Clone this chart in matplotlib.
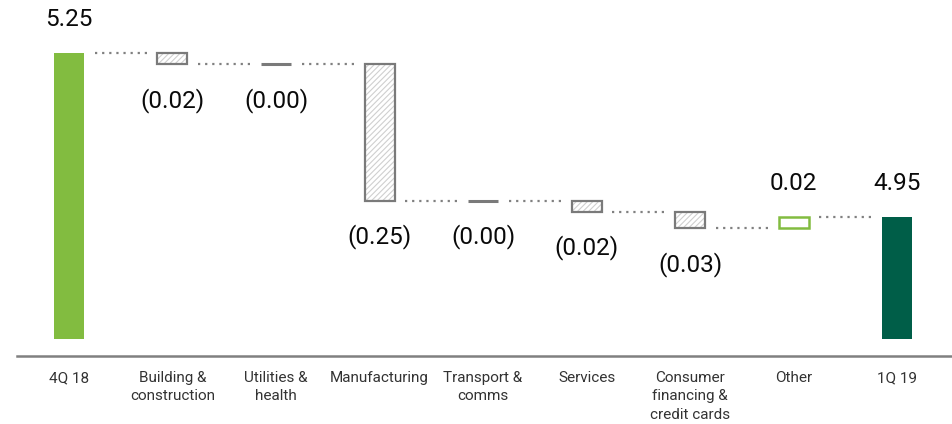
import matplotlib
matplotlib.use("Agg")
import matplotlib.pyplot as plt
import numpy as np

# Loan book bridge, 4Q 18 to 1Q 19
categories = ["4Q 18", "Building &\nconstruction", "Utilities &\nhealth", "Manufacturing",
              "Transport &\ncomms", "Services", "Consumer\nfinancing &\ncredit cards",
              "Other", "1Q 19"]
opening = 5.25
changes = [-0.02, -0.00, -0.25, -0.00, -0.02, -0.03, 0.02]
closing = 4.95
value_labels = ["5.25", "(0.02)", "(0.00)", "(0.25)", "(0.00)", "(0.02)", "(0.03)", "0.02", "4.95"]

plt.rcParams["font.family"] = ["Roboto", "DejaVu Sans"]

LIGHT_GREEN = "#82BC40"
DARK_GREEN = "#005E48"
GREY_EDGE = "#7a7a7a"
HATCH_GREY = "#cfcfcf"
AXIS_FLOOR = 4.696
BAR_BASE = 4.727
WIDTH = 0.29

fig = plt.figure(figsize=(9.52, 4.24), dpi=100)
ax = fig.add_axes([17 / 952, 68 / 424, 1 - 17 / 952, 356 / 424])

x = np.arange(len(categories))
levels = np.concatenate([[opening], opening + np.cumsum(changes)])

plt.rcParams["hatch.linewidth"] = 0.8

# Opening and closing totals
ax.bar(x[0], opening - BAR_BASE, bottom=BAR_BASE, width=WIDTH, color=LIGHT_GREEN, zorder=3)
ax.bar(x[-1], closing - BAR_BASE, bottom=BAR_BASE, width=WIDTH, color=DARK_GREEN, zorder=3)

# Movement bars
for i, d in enumerate(changes):
    xi = x[i + 1]
    start = levels[i]
    bottom = min(start, start + d)
    h = abs(d)
    if d > 0:
        ax.bar(xi, h, bottom=bottom, width=WIDTH, facecolor="white",
               edgecolor=LIGHT_GREEN, linewidth=1.8, zorder=3)
    elif h == 0:
        ax.plot([xi - WIDTH / 2, xi + WIDTH / 2], [start, start], color=GREY_EDGE,
                linewidth=2.2, solid_capstyle="butt", zorder=3)
    else:
        ax.bar(xi, h, bottom=bottom, width=WIDTH, facecolor="white", hatch="//////",
               edgecolor=HATCH_GREY, linewidth=0, zorder=3)
        ax.bar(xi, h, bottom=bottom, width=WIDTH, fill=False,
               edgecolor=GREY_EDGE, linewidth=1.6, zorder=4)

# Dotted connectors between consecutive bars
gap = 0.105
for i in range(len(categories) - 1):
    lvl = levels[i]
    ax.plot([x[i] + WIDTH / 2 + gap, x[i + 1] - WIDTH / 2 - gap], [lvl, lvl],
            color="#808080", linewidth=1.6, linestyle=(0, (1, 2.2)),
            dash_capstyle="butt", zorder=2)

# Value labels
tops = [opening] + [max(levels[i], levels[i] + d) for i, d in enumerate(changes)] + [closing]
bottoms = [BAR_BASE] + [min(levels[i], levels[i] + d) for i, d in enumerate(changes)] + [BAR_BASE]
for i, lab in enumerate(value_labels):
    if lab.startswith("("):
        ax.annotate(lab, (x[i], bottoms[i]), xytext=(0, -26), textcoords="offset points",
                    ha="center", va="center", fontsize=17.5, color="#0a0a0a")
    else:
        ax.annotate(lab, (x[i], tops[i]), xytext=(0, 24.5), textcoords="offset points",
                    ha="center", va="center", fontsize=17.5, color="#0a0a0a")

ax.set_xlim(-0.502, 8.53)
ax.set_ylim(AXIS_FLOOR, AXIS_FLOOR + 356 / 546.7)
ax.set_xticks(x)
ax.set_xticklabels(categories, fontsize=11, color="#333333", linespacing=1.38, va="top")
ax.tick_params(axis="x", length=0, pad=11)
ax.set_yticks([])
for side in ["top", "right", "left"]:
    ax.spines[side].set_visible(False)
ax.spines["bottom"].set_color("#808080")
ax.spines["bottom"].set_linewidth(1.8)
ax.patch.set_alpha(0)

fig.savefig("out.png", dpi=100)
